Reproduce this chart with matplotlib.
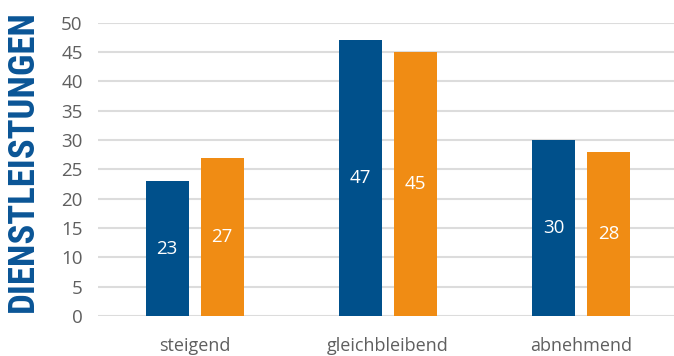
import matplotlib
matplotlib.use("Agg")
import matplotlib.pyplot as plt
import numpy as np

categories = ["steigend", "gleichbleibend", "abnehmend"]
series_blue = [23, 47, 30]
series_orange = [27, 45, 28]
y_ticks = [0, 5, 10, 15, 20, 25, 30, 35, 40, 45, 50]
title = "DIENSTLEISTUNGEN"

BLUE = "#00508B"
ORANGE = "#F08C14"
GRID = "#DCDCDC"
TICK = "#5F5F5F"

W, H = 674, 356
fig = plt.figure(figsize=(W / 100, H / 100), dpi=100)
fig.patch.set_facecolor("white")

left, bottom = 98 / W, 40 / H
ax = fig.add_axes([left, bottom, 580 / W, (316 - 22.7) / H])

x = np.arange(len(categories))
bw = 0.223
off = 0.142
b1 = ax.bar(x - off, series_blue, width=bw, color=BLUE, zorder=3)
b2 = ax.bar(x + off, series_orange, width=bw, color=ORANGE, zorder=3)

for bars, vals in ((b1, series_blue), (b2, series_orange)):
    for rect, v in zip(bars, vals):
        ax.text(rect.get_x() + rect.get_width() / 2, v / 2, str(v),
                ha="center", va="center", color="white",
                fontsize=13.5, family="Open Sans", zorder=4)

ax.set_xlim(-0.5, 2.5)
ax.set_ylim(0, 50)
ax.set_yticks(y_ticks)
ax.set_yticklabels([str(t) for t in y_ticks], family="Open Sans",
                   fontsize=13.5, color=TICK)
ax.set_xticks(x)
ax.set_xticklabels(categories, family="Open Sans", fontsize=13, color=TICK)
ax.tick_params(axis="y", length=0, pad=11)
ax.tick_params(axis="x", length=0, pad=15)
ax.yaxis.grid(True, color=GRID, linewidth=1.5, zorder=0)
ax.set_axisbelow(True)
for s in ax.spines.values():
    s.set_visible(False)

fig.text(22.5 / W, 1 - 161 / H, title, rotation=90, ha="center", va="center",
         color="#0A5596", fontsize=26.5, fontweight="bold", family="Roboto Condensed")

fig.savefig("out.png", dpi=100, facecolor="white")
